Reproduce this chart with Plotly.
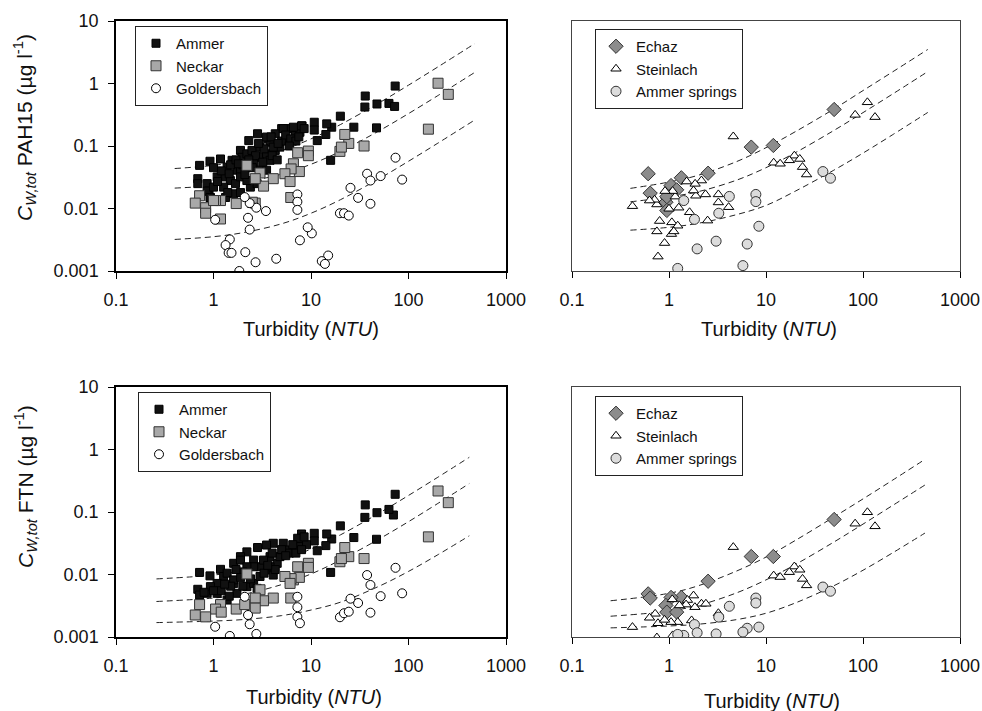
import plotly.graph_objects as go

# ---------------- data ----------------
# Top-left: PAH15
tl_ammer_T = [73, 36, 35.7, 47.5, 63, 72, 47, 27.5, 20, 16.3, 14.5, 14.2, 11.6, 10.8, 10.8, 15.9,
              8.1, 6.9, 5.9, 5.0, 4.3, 3.6, 2.83, 2.3, 1.89, 1.18, 0.92, 0.72, 0.69, 0.69, 0.86, 0.9, 0.93,
              1.09, 1.33, 1.38, 1.55, 1.75, 1.96, 2.2, 2.48, 3.0, 3.5, 4.3, 2.58, 3.0, 1.89, 1.49, 1.68,
              1.27, 1.89, 2.39, 2.2, 3.5, 3.8, 4.8, 5.65, 6.9, 7.7, 3.0, 3.8, 8.0, 6.6, 5.2, 3.5, 4.1,
              1.61, 1.89, 1.33, 0.86, 0.92, 2.8, 1.2, 1.5, 1.7, 2.0, 2.1, 2.5, 2.7, 3.2, 3.3, 4.0, 4.5,
              5.0, 5.5, 6.2, 7.0, 7.5, 8.5, 1.0, 1.1, 1.45, 1.8, 2.3, 2.9, 3.9, 4.6, 6.0, 1.4, 1.0]
tl_ammer_C = [0.91, 0.63, 0.42, 0.47, 0.48, 0.43, 0.195, 0.2, 0.30, 0.2, 0.226, 0.153, 0.122, 0.24, 0.18, 0.059,
              0.21, 0.178, 0.19, 0.19, 0.157, 0.13, 0.157, 0.122, 0.085, 0.062, 0.057, 0.049, 0.030, 0.025, 0.025, 0.019, 0.015,
              0.032, 0.032, 0.046, 0.059, 0.041, 0.066, 0.075, 0.085, 0.066, 0.075, 0.085, 0.052, 0.041, 0.041, 0.028, 0.025,
              0.022, 0.032, 0.022, 0.028, 0.041, 0.059, 0.096, 0.122, 0.147, 0.166, 0.096, 0.115, 0.21, 0.2, 0.19, 0.139, 0.096,
              0.0172, 0.018, 0.015, 0.019, 0.015, 0.025, 0.04, 0.05, 0.06, 0.05, 0.035, 0.045, 0.07, 0.055, 0.09, 0.07, 0.06,
              0.12, 0.15, 0.13, 0.12, 0.14, 0.19, 0.022, 0.027, 0.036, 0.052, 0.06, 0.11, 0.14, 0.11, 0.1, 0.018, 0.045]
tl_neckar_T = [201, 256, 160, 35, 24.4, 22.2, 19.8, 20.5, 9.4, 9.4, 7.3, 6.6, 7.6, 6.25, 5.4, 6.1, 6.2, 4.1,
               3.26, 3.0, 2.68, 2.2, 2.68, 1.71, 1.18, 1.05, 1.18, 0.83, 0.83, 0.72, 0.65, 2.5, 1.0]
tl_neckar_C = [1.01, 0.67, 0.186, 0.10, 0.11, 0.153, 0.082, 0.096, 0.083, 0.070, 0.078, 0.052, 0.039, 0.043, 0.036,
               0.027, 0.015, 0.030, 0.0228, 0.037, 0.030, 0.049, 0.0122, 0.012, 0.0134, 0.0134, 0.0068, 0.0103,
               0.0084, 0.016, 0.0122, 0.0126, 0.0134]
tl_gold_T = [73.6, 86, 37.6, 40.7, 51.8, 40.7, 30.4, 25.4, 19.8, 21.8, 24.4, 15, 12.9, 13.9, 10.2, 9.25, 7.7,
             7.25, 7.25, 7.25, 4.4, 3.45, 2.75, 2.35, 2.09, 2.26, 2.35, 2.12, 2.7, 1.84, 1.47, 1.33, 1.43, 1.53, 1.04]
tl_gold_C = [0.065, 0.029, 0.036, 0.028, 0.033, 0.0119, 0.0148, 0.0214, 0.0084, 0.0084, 0.0077, 0.00177, 0.00144,
             0.0013, 0.004, 0.005, 0.0031, 0.0168, 0.0128, 0.0095, 0.00157, 0.0091, 0.0103, 0.0122, 0.0152, 0.0071,
             0.0046, 0.002, 0.00138, 0.001, 0.0032, 0.0026, 0.00195, 0.00195, 0.0066]

# Top-right: PAH15
tr_echaz_T = [50.4, 11.9, 7.05, 2.53, 1.34, 0.61, 0.64, 1.05, 1.2, 0.93, 0.95, 0.95]
tr_echaz_C = [0.384, 0.102, 0.096, 0.0367, 0.031, 0.036, 0.0176, 0.0233, 0.0199, 0.0126, 0.0093, 0.0155]
tr_stein_T = [111, 83, 133, 4.6, 19.6, 22.3, 17.4, 12, 14, 23.8, 26.2, 2.16, 1.86, 1.52, 2.38, 3.23, 3.23, 4.12,
              2.5, 1.89, 1.79, 1.63, 1.26, 1.16, 1.09, 0.91, 0.75, 0.71, 0.63, 0.42, 0.8, 0.75, 1.07, 1.23, 1.06,
              1.12, 0.9, 0.77, 1.0]
tr_stein_C = [0.50, 0.315, 0.29, 0.142, 0.070, 0.062, 0.059, 0.054, 0.052, 0.046, 0.035, 0.028, 0.0248, 0.027,
              0.0168, 0.0168, 0.0125, 0.0105, 0.0064, 0.016, 0.0194, 0.0087, 0.0103, 0.0155, 0.019, 0.019, 0.0116,
              0.0138, 0.0134, 0.0109, 0.0063, 0.0043, 0.006, 0.0053, 0.0039, 0.0043, 0.0028, 0.0017, 0.0099]
tr_spring_T = [38.6, 46.2, 4.19, 7.86, 7.86, 3.26, 1.42, 1.83, 8.44, 3.06, 1.95, 6.4, 5.78, 1.23]
tr_spring_C = [0.039, 0.0305, 0.0156, 0.0168, 0.0129, 0.0084, 0.0134, 0.0067, 0.0052, 0.003, 0.00226, 0.0027,
               0.00122, 0.0011]

# Bottom-left: FTN
bl_ammer_T = [73, 70, 63, 47.5, 36, 35.7, 47, 27.5, 20, 16.3, 14.5, 14.2, 11.6, 10.8, 10.8, 15.9, 8.0, 7.3, 6.6,
              5.2, 4.1, 3.5, 2.83, 2.2, 1.89, 0.72, 0.92, 1.18, 1.27, 0.69, 0.72, 0.86, 1.09, 1.38, 1.74, 2.2, 1.61,
              2.58, 3.0, 3.5, 4.1, 4.5, 3.0, 2.58, 1.61, 1.89, 1.38, 1.61, 1.09, 0.93, 2.58, 4.8, 3.8, 5.65, 3.8,
              2.2, 3.26, 7.6, 6.0, 5.0, 9.0, 8.5, 4.3, 2.0, 1.2, 1.5, 1.9, 2.4, 3.3, 1.0, 0.8, 1.3, 1.45, 2.8, 3.6,
              4.0, 5.5, 7.0, 8.0, 6.5, 2.0, 1.7]
bl_ammer_C = [0.192, 0.0895, 0.11, 0.0975, 0.13, 0.082, 0.0366, 0.039, 0.06, 0.037, 0.0445, 0.029, 0.024, 0.0456,
              0.0344, 0.0108, 0.0445, 0.038, 0.026, 0.0316, 0.0316, 0.0296, 0.027, 0.023, 0.0193, 0.0108, 0.0095,
              0.0121, 0.0093, 0.0058, 0.0047, 0.005, 0.005, 0.0039, 0.005, 0.0064, 0.0072, 0.0072, 0.0093, 0.0118,
              0.0098, 0.0151, 0.0133, 0.017, 0.0151, 0.017, 0.0105, 0.0082, 0.0072, 0.0064, 0.0133, 0.0193, 0.0193,
              0.0247, 0.0133, 0.0133, 0.017, 0.028, 0.022, 0.025, 0.03, 0.04, 0.012, 0.011, 0.0055, 0.0065, 0.009,
              0.0085, 0.0105, 0.0055, 0.0052, 0.007, 0.0045, 0.006, 0.014, 0.022, 0.02, 0.022, 0.025, 0.03, 0.0065,
              0.012]
bl_neckar_T = [201, 256, 160, 35, 24.4, 22.2, 19.8, 20.5, 9.4, 9.4, 7.3, 6.6, 7.6, 6.25, 5.4, 6.1, 6.2, 4.1, 3.26,
               3.0, 2.68, 2.2, 2.68, 1.71, 1.18, 1.05, 1.2, 0.83, 0.72, 0.65, 2.09]
bl_neckar_C = [0.217, 0.141, 0.040, 0.018, 0.0193, 0.027, 0.016, 0.018, 0.0151, 0.013, 0.0133, 0.0082, 0.009,
               0.0086, 0.0093, 0.0072, 0.0042, 0.0042, 0.0038, 0.0057, 0.0042, 0.0102, 0.0029, 0.0028, 0.0033,
               0.0028, 0.0025, 0.0021, 0.0033, 0.00225, 0.0033]
bl_gold_T = [73.6, 86, 37.6, 40.7, 51.8, 40.7, 30.4, 25.4, 19.8, 21.8, 24.4, 7.25, 7.25, 7.25, 7.7, 2.09, 2.26,
             2.35, 2.75, 1.47, 1.04]
bl_gold_C = [0.0128, 0.005, 0.0098, 0.0068, 0.0045, 0.00245, 0.0035, 0.0041, 0.00207, 0.0024, 0.00254, 0.0044,
             0.003, 0.0021, 0.00166, 0.0044, 0.00225, 0.0016, 0.00112, 0.00104, 0.00146]

# Bottom-right: FTN
br_echaz_T = [50.4, 11.9, 7.05, 2.53, 1.34, 0.61, 0.64, 1.05, 0.93, 0.95, 1.2]
br_echaz_C = [0.076, 0.0194, 0.0194, 0.0078, 0.0043, 0.0049, 0.0042, 0.0043, 0.0032, 0.0025, 0.0025]
br_stein_T = [111, 83, 133, 4.6, 19.6, 22.3, 17.4, 12, 14, 23.8, 26.2, 2.16, 2.4, 1.79, 1.55, 1.85, 1.5, 1.28,
              1.08, 3.23, 1.71, 1.23, 1.05, 0.72, 0.63, 0.77, 0.42, 0.75, 0.9, 1.09]
br_stein_C = [0.099, 0.065, 0.059, 0.0274, 0.0134, 0.0119, 0.0109, 0.0096, 0.0091, 0.0085, 0.0067, 0.0034,
              0.0034, 0.0046, 0.0039, 0.003, 0.0033, 0.0032, 0.004, 0.0024, 0.00184, 0.00173, 0.00173, 0.00235,
              0.00203, 0.00166, 0.00144, 0.00098, 0.00188, 0.00106]
br_spring_T = [38.6, 46.2, 4.19, 7.86, 7.86, 3.26, 1.83, 8.44, 6.4, 5.78, 3.06, 1.95, 1.42, 1.23]
br_spring_C = [0.0063, 0.0054, 0.0031, 0.0042, 0.0035, 0.00208, 0.00158, 0.00144, 0.00138, 0.0012, 0.00112,
               0.00117, 0.00106, 0.0011]

# Dashed fit curves
tl_fit_T = [0.4, 1, 2, 5, 10, 20, 50, 100, 200, 480]
tl_fit_ammer = [0.0436, 0.049, 0.058, 0.085, 0.13, 0.22, 0.49, 0.94, 1.84, 4.36]
tl_fit_neckar = [0.0212, 0.0231, 0.0262, 0.0355, 0.051, 0.082, 0.175, 0.33, 0.64, 1.51]
tl_fit_gold = [0.0032, 0.00354, 0.0041, 0.0057, 0.0084, 0.0138, 0.030, 0.057, 0.111, 0.262]

tr_fit_T = [0.4, 1, 2, 5, 10, 20, 50, 100, 200, 465]
tr_fit_echaz = [0.021, 0.0265, 0.034, 0.0565, 0.094, 0.169, 0.39, 0.77, 1.52, 3.5]
tr_fit_stein = [0.0128, 0.0153, 0.0186, 0.0285, 0.045, 0.078, 0.177, 0.342, 0.672, 1.55]
tr_fit_spring = [0.0045, 0.005, 0.0058, 0.0080, 0.0112, 0.0189, 0.041, 0.077, 0.15, 0.344]

bl_fit_T = [0.26, 1, 2, 5, 10, 20, 50, 100, 200, 420]
bl_fit_ammer = [0.0085, 0.0098, 0.0115, 0.0168, 0.0256, 0.043, 0.096, 0.184, 0.36, 0.75]
bl_fit_neckar = [0.0037, 0.0042, 0.0048, 0.0069, 0.0102, 0.017, 0.037, 0.070, 0.137, 0.285]
bl_fit_gold = [0.0017, 0.0018, 0.0019, 0.0022, 0.0027, 0.0036, 0.0065, 0.0112, 0.0207, 0.0416]

br_fit_T = [0.25, 1, 2, 5, 10, 20, 50, 100, 200, 435]
br_fit_echaz = [0.0038, 0.005, 0.0066, 0.0114, 0.019, 0.035, 0.083, 0.162, 0.32, 0.695]
br_fit_stein = [0.00215, 0.0026, 0.0032, 0.0051, 0.0082, 0.0144, 0.033, 0.064, 0.126, 0.27]
br_fit_spring = [0.0014, 0.0015, 0.0016, 0.0019, 0.0024, 0.0035, 0.0066, 0.0117, 0.022, 0.046]

x_tickvals = [0.1, 1, 10, 100, 1000]
x_ticktext = ["0.1", "1", "10", "100", "1000"]
y_tickvals = [0.001, 0.01, 0.1, 1, 10]
y_ticktext = ["0.001", "0.01", "0.1", "1", "10"]

FONT = "Arial, Liberation Sans, sans-serif"

# ---------------- figure ----------------
fig = go.Figure()

def fit(T, C, xa, ya):
    fig.add_trace(go.Scatter(x=T, y=C, mode="lines", xaxis=xa, yaxis=ya, showlegend=False,
                             line=dict(color="#222", width=1, dash="6px,4px", shape="spline"),
                             hoverinfo="skip"))

styles = {
    "Ammer": dict(symbol="square", size=8, color="#111111", line=dict(color="#000", width=1)),
    "Neckar": dict(symbol="square", size=10, color="#a8a8a8", line=dict(color="#333", width=1)),
    "Goldersbach": dict(symbol="circle", size=9, color="white", line=dict(color="#000", width=1)),
    "Echaz": dict(symbol="diamond", size=11, color="#8c8c8c", line=dict(color="#333", width=1)),
    "Steinlach": dict(symbol="triangle-up", size=9, color="white", line=dict(color="#000", width=1)),
    "Ammer springs": dict(symbol="circle", size=10, color="#dcdcdc", line=dict(color="#333", width=1)),
}

def pts(T, C, name, xa, ya, legend):
    fig.add_trace(go.Scatter(x=T, y=C, mode="markers", name=name, xaxis=xa, yaxis=ya,
                             legend=legend, marker=styles[name]))

# top-left
fit(tl_fit_T, tl_fit_ammer, "x", "y")
fit(tl_fit_T, tl_fit_neckar, "x", "y")
fit(tl_fit_T, tl_fit_gold, "x", "y")
pts(tl_ammer_T, tl_ammer_C, "Ammer", "x", "y", "legend")
pts(tl_neckar_T, tl_neckar_C, "Neckar", "x", "y", "legend")
pts(tl_gold_T, tl_gold_C, "Goldersbach", "x", "y", "legend")
# top-right
fit(tr_fit_T, tr_fit_echaz, "x2", "y2")
fit(tr_fit_T, tr_fit_stein, "x2", "y2")
fit(tr_fit_T, tr_fit_spring, "x2", "y2")
pts(tr_echaz_T, tr_echaz_C, "Echaz", "x2", "y2", "legend2")
pts(tr_stein_T, tr_stein_C, "Steinlach", "x2", "y2", "legend2")
pts(tr_spring_T, tr_spring_C, "Ammer springs", "x2", "y2", "legend2")
# bottom-left
fit(bl_fit_T, bl_fit_ammer, "x3", "y3")
fit(bl_fit_T, bl_fit_neckar, "x3", "y3")
fit(bl_fit_T, bl_fit_gold, "x3", "y3")
pts(bl_ammer_T, bl_ammer_C, "Ammer", "x3", "y3", "legend3")
pts(bl_neckar_T, bl_neckar_C, "Neckar", "x3", "y3", "legend3")
pts(bl_gold_T, bl_gold_C, "Goldersbach", "x3", "y3", "legend3")
# bottom-right
fit(br_fit_T, br_fit_echaz, "x4", "y4")
fit(br_fit_T, br_fit_stein, "x4", "y4")
fit(br_fit_T, br_fit_spring, "x4", "y4")
pts(br_echaz_T, br_echaz_C, "Echaz", "x4", "y4", "legend4")
pts(br_stein_T, br_stein_C, "Steinlach", "x4", "y4", "legend4")
pts(br_spring_T, br_spring_C, "Ammer springs", "x4", "y4", "legend4")

W, H = 982, 711
def px(v): return v / W
def py(v): return 1 - v / H

xl = [px(116), px(506)]
xr = [px(572), px(960)]
yt = [py(271), py(21)]
yb = [py(637), py(387)]

def xax(domain, anchor, dark):
    return dict(type="log", range=[-1, 3], domain=domain, anchor=anchor, automargin=False,
                tickvals=x_tickvals, ticktext=x_ticktext, ticks="outside", ticklen=6,
                tickwidth=1.2, tickcolor="#000", showgrid=False, zeroline=False,
                showline=True, mirror=True, linecolor="#000" if dark else "#444",
                linewidth=1.5 if dark else 1.2,
                tickfont=dict(family=FONT, size=18, color="#111"), ticklabelstandoff=6)

def yax(domain, anchor, labels):
    d = dict(type="log", range=[-3, 1], domain=domain, anchor=anchor, showgrid=False,
             zeroline=False, showline=True, mirror=True, automargin=False,
             linecolor="#000" if labels else "#444", linewidth=1.5 if labels else 1.2)
    if labels:
        d.update(tickvals=y_tickvals, ticktext=y_ticktext, ticks="outside", ticklen=6,
                 tickwidth=1.2, tickcolor="#000",
                 tickfont=dict(family=FONT, size=18, color="#111"), ticklabelstandoff=6)
    else:
        d.update(showticklabels=False, ticks="")
    return d

def legend(x, y):
    return dict(x=x, y=y, xanchor="left", yanchor="top", bgcolor="white",
                bordercolor="#222", borderwidth=1, font=dict(family=FONT, size=15, color="#111"),
                tracegroupgap=0, itemclick=False, itemwidth=30)

fig.update_layout(
    width=W, height=H, margin=dict(l=0, r=0, t=0, b=0, pad=0, autoexpand=False),
    paper_bgcolor="white", plot_bgcolor="white",
    font=dict(family=FONT, color="#111"),
    xaxis=xax(xl, "y", True), yaxis=yax(yt, "x", True),
    xaxis2=xax(xr, "y2", False), yaxis2=yax(yt, "x2", False),
    xaxis3=xax(xl, "y3", True), yaxis3=yax(yb, "x3", True),
    xaxis4=xax(xr, "y4", False), yaxis4=yax(yb, "x4", False),
    legend=legend(px(135), py(26)),
    legend2=legend(px(595), py(29)),
    legend3=legend(px(138), py(392)),
    legend4=legend(px(595), py(396)),
)

ann = []
xt = "Turbidity (<i>NTU</i>)"
for (cx, cy) in [(311, 329), (769, 329), (314, 697), (772, 701)]:
    ann.append(dict(text=xt, x=px(cx), y=py(cy), xref="paper", yref="paper", showarrow=False,
                    xanchor="center", yanchor="middle", font=dict(family=FONT, size=20, color="#111")))
ann.append(dict(text="<i>C</i><sub><i>W,tot</i></sub> PAH15 (µg l<sup>-1</sup>)", x=px(25), y=py(128),
                xref="paper", yref="paper", showarrow=False, textangle=-90, xanchor="center",
                yanchor="middle", font=dict(family=FONT, size=21, color="#111")))
ann.append(dict(text="<i>C</i><sub><i>W,tot</i></sub> FTN (µg l<sup>-1</sup>)", x=px(25), y=py(487),
                xref="paper", yref="paper", showarrow=False, textangle=-90, xanchor="center",
                yanchor="middle", font=dict(family=FONT, size=21, color="#111")))
fig.update_layout(annotations=ann)

fig.write_html("out.html", config={"displayModeBar": False},
               post_script="document.body.style.margin='0px';")
